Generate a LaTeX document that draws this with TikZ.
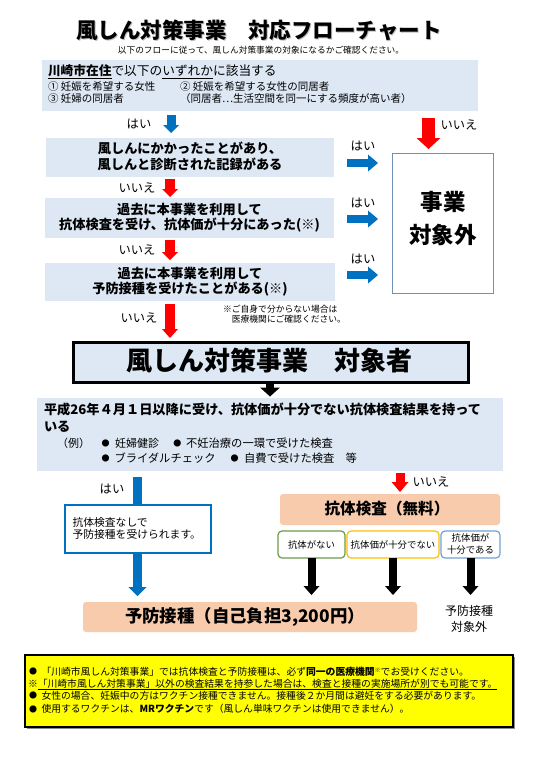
\documentclass[tikz,border=0pt]{standalone}
\usepackage{fontspec}
\setmainfont{Noto Sans CJK JP}
\usetikzlibrary{arrows.meta}
\definecolor{lb}{HTML}{DDE8F4}
\definecolor{fblue}{HTML}{0070C0}
\definecolor{fred}{HTML}{FF0000}
\definecolor{peach}{HTML}{F8CBAD}
\definecolor{gbord}{HTML}{6A9B47}
\definecolor{ybord}{HTML}{FFC000}
\definecolor{bbord}{HTML}{6FA0D8}
\definecolor{rbord}{HTML}{7090B8}
\definecolor{notey}{HTML}{FFFF00}
\newcommand\fsz[2]{\fontsize{#1}{#2}\selectfont}
\begin{document}
\begin{tikzpicture}[x=1pt,y=-1pt,
  every node/.style={inner sep=0pt, outer sep=0pt},
  lbfill/.style={fill=lb, draw=none},
  barr/.style n args={4}{draw=#1, line width=#2, -{Triangle[width=#3,length=#4,line width=0pt]}},
  lab/.style={font=\fsz{12.3}{14}},
  boxtxt/.style={font=\fsz{13.2}{15.5}\bfseries, align=center},
  small/.style={rounded corners=4pt, line width=1.2pt, fill=white},
  notefont/.style={font=\fsz{9.8}{11}}]
\fill[white] (0,0) rectangle (543,760);
\useasboundingbox (0,0) rectangle (543,760);

% title
\node[text=black!25, font=\fsz{21.5}{24}\bfseries] (titlesh) at (260,31) {風しん対策事業　対応フローチャート};
\node[font=\fsz{21.5}{24}\bfseries] (title) at (259,30) {風しん対策事業　対応フローチャート};
\node[font=\fsz{8.7}{10}] (sub) at (261,50) {以下のフローに従って、風しん対策事業の対象になるかご確認ください。};

% top condition box
\path[lbfill] (42,60) rectangle (478,111);
\node[anchor=base west, font=\fsz{12.7}{14}] (q1) at (48,75.5) {\underline{\textbf{川崎市在住}}で以下の\underline{いずれか}に該当する};
\node[anchor=base west, font=\fsz{10.5}{12}] (c1) at (48,90.5) {① 妊娠を希望する女性};
\node[anchor=base west, font=\fsz{10.5}{12}] (c2) at (180,90.5) {② 妊娠を希望する女性の同居者};
\node[anchor=base west, font=\fsz{10.5}{12}] (c3) at (48,102.5) {③ 妊婦の同居者};
\node[anchor=base west, font=\fsz{10.5}{12}] (c4) at (180,102.5) {（同居者…生活空間を同一にする頻度が高い者）};

% right box
\node[draw=rbord, line width=1pt, minimum width=101pt, minimum height=140pt] (nottarget) at (442.5,223) {};
\node[font=\fsz{22.5}{33}\bfseries, align=center] (nttxt) at (443,219) {事業\\対象外};

% arrows column
\coordinate (a1s) at (171,115); \coordinate (a1e) at (171,133);
\draw[barr={fblue}{9pt}{16pt}{8pt}] (a1s) -- (a1e);
\node[lab] (yes1) at (139,124) {はい};

\coordinate (r0s) at (428.5,118); \coordinate (r0e) at (428.5,149);
\draw[barr={fred}{13pt}{24pt}{11pt}] (r0s) -- (r0e);
\node[lab] (no0) at (459,125) {いいえ};

% box1
\path[lbfill] (46,138) rectangle (334,177);
\node[boxtxt] (b1) at (190,156.5) {風しんにかかったことがあり、\\風しんと診断された記録がある};
\coordinate (h1s) at (347,163); \coordinate (h1e) at (378,163);
\draw[barr={fblue}{8pt}{17pt}{10pt}] (h1s) -- (h1e);
\node[lab] (yes2) at (363,146) {はい};

\coordinate (r1s) at (170,179); \coordinate (r1e) at (170,197);
\draw[barr={fred}{10pt}{16pt}{8pt}] (r1s) -- (r1e);
\node[lab] (no1) at (137,188) {いいえ};

% box2
\path[lbfill] (45,198) rectangle (334,238);
\node[boxtxt] (b2) at (189.5,217.5) {過去に本事業を利用して\\抗体検査を受け、抗体価が十分にあった(※)};
\coordinate (h2s) at (347,219); \coordinate (h2e) at (378,219);
\draw[barr={fblue}{8pt}{17pt}{10pt}] (h2s) -- (h2e);
\node[lab] (yes3) at (363,203) {はい};

\coordinate (r2s) at (170,240); \coordinate (r2e) at (170,260);
\draw[barr={fred}{10pt}{16pt}{8pt}] (r2s) -- (r2e);
\node[lab] (no2) at (137,250) {いいえ};

% box3
\path[lbfill] (45,263) rectangle (335,301);
\node[boxtxt] (b3) at (190,281.5) {過去に本事業を利用して\\予防接種を受けたことがある(※)};
\coordinate (h3s) at (347,275); \coordinate (h3e) at (378,275);
\draw[barr={fblue}{8pt}{17pt}{10pt}] (h3s) -- (h3e);
\node[lab] (yes4) at (363,259) {はい};

\node[anchor=north west, font=\fsz{8.8}{10}, align=left] (note1) at (223,305) {※ご自身で分からない場合は\\　医療機関にご確認ください。};

\coordinate (r3s) at (170,304); \coordinate (r3e) at (170,338);
\draw[barr={fred}{10pt}{16pt}{9pt}] (r3s) -- (r3e);
\node[lab] (no3) at (139,318) {いいえ};

% target box
\node[fill=lb, draw=black, line width=3pt, minimum width=395pt, minimum height=40pt] (target) at (270.5,362) {};
\node[font=\fsz{26}{28}\bfseries] (targettxt) at (269,361) {風しん対策事業　対象者};
\coordinate (k0s) at (270,382); \coordinate (k0e) at (270,396.5);
\draw[barr={black}{8pt}{20pt}{9pt}] (k0s) -- (k0e);

% lower condition box
\path[lbfill] (37,398) rectangle (503,471);
\node[anchor=base west, font=\fsz{13.2}{15}\bfseries] (d1) at (44,414.5) {平成26年４月１日以降に受け、抗体価が十分でない抗体検査結果を持って};
\node[anchor=base west, font=\fsz{13.2}{15}\bfseries] (d2) at (44,431.5) {いる};
\node[anchor=base west, font=\fsz{11}{12}] (ex0) at (57,447) {（例）};
\node[font=\fsz{8}{8}] (bul1) at (105.7,443) {●};
\node[anchor=base west, font=\fsz{11}{12}] (ex1) at (115,447) {妊婦健診};
\node[font=\fsz{8}{8}] (bul2) at (177.3,443) {●};
\node[anchor=base west, font=\fsz{11.3}{12}] (ex2) at (186,447) {不妊治療の一環で受けた検査};
\node[font=\fsz{8}{8}] (bul3) at (105.7,458) {●};
\node[anchor=base west, font=\fsz{11.3}{12}] (ex3) at (114.5,462) {ブライダルチェック};
\node[font=\fsz{8}{8}] (bul4) at (234.5,458) {●};
\node[anchor=base west, font=\fsz{11.3}{12}] (ex4) at (244,462) {自費で受けた検査　等};

% left branch
\coordinate (ls) at (137.5,477); \coordinate (le) at (137.5,596);
\draw[barr={fblue}{9pt}{18pt}{9pt}] (ls) -- (le);
\node[lab] (yes5) at (112,489) {はい};
\node[draw=fblue, line width=1.3pt, fill=white, minimum width=146pt, minimum height=48pt] (noexam) at (138,529) {};
\node[anchor=west, font=\fsz{10.8}{11.5}, align=left] (noexamtxt) at (72.5,528.5) {抗体検査なしで\\予防接種を受けられます。};

% right branch
\coordinate (r4s) at (400,473); \coordinate (r4e) at (400,492);
\draw[barr={fred}{9pt}{17pt}{10pt}] (r4s) -- (r4e);
\node[lab] (no4) at (431,482) {いいえ};
\node[fill=peach, rounded corners=3pt, minimum width=220pt, minimum height=31pt] (exam) at (390,509.5) {};
\node[font=\fsz{15.6}{17}\bfseries] (examtxt) at (387,508.5) {抗体検査（無料）};

\node[small, draw=gbord, minimum width=67pt, minimum height=27pt] (res1) at (311.5,544.5) {};
\node[font=\fsz{9.4}{11}] (res1t) at (311.5,544.5) {抗体がない};
\node[small, draw=ybord, minimum width=92pt, minimum height=27pt] (res2) at (393,544.5) {};
\node[font=\fsz{9.4}{11}] (res2t) at (393,544.5) {抗体価が十分でない};
\node[small, draw=bbord, minimum width=59pt, minimum height=27pt] (res3) at (470.5,544.5) {};
\node[font=\fsz{9.4}{12}, align=center] (res3t) at (470.5,543.5) {抗体価が\\十分である};

\draw[barr={black}{8pt}{16pt}{9pt}] (res1.south) -- ++(0,37);
\draw[barr={black}{8pt}{16pt}{9pt}] (res2.south) -- ++(0,37);
\draw[barr={black}{8pt}{16pt}{9pt}] (res3.south) -- ++(0,37);

\node[fill=peach, rounded corners=3pt, minimum width=334pt, minimum height=30pt] (vacc) at (250,617) {};
\node[font=\fsz{17.4}{19}\bfseries] (vacctxt) at (245,616.5) {予防接種（自己負担3,200円）};
\node[font=\fsz{12}{16}, align=center] (outside) at (469,618.5) {予防接種\\対象外};

% notes
\fill[black!45] (27,657) rectangle (515,729);
\node[fill=notey, draw=black, line width=2pt, minimum width=488pt, minimum height=72pt] (notes) at (269,691) {};
\node[font=\fsz{8}{8}] (nb1) at (33,671.5) {●};
\node[anchor=base west, notefont] (n1) at (41.5,675) {「川崎市風しん対策事業」では抗体検査と予防接種は、必ず\textbf{同一の医療機関}\raisebox{2.5pt}{\fsz{6}{6}※}でお受けください。};
\node[anchor=base west, notefont] (n2a) at (28,687.5) {※};
\node[anchor=base west, notefont] (n2b) at (n2a.base east) {「川崎市風しん対策事業」以外の検査結果を持参した場合は、検査と接種の実施場所が別でも可能です。};
\draw[line width=0.6pt] ([yshift=-1.6pt]n2b.base west) -- ([yshift=-1.6pt]n2b.base east);
\node[font=\fsz{8}{8}] (nb3) at (33,695.5) {●};
\node[anchor=base west, notefont] (n3) at (41.5,699) {女性の場合、妊娠中の方はワクチン接種できません。接種後２か月間は避妊をする必要があります。};
\node[font=\fsz{8}{8}] (nb4) at (33,709) {●};
\node[anchor=base west, notefont] (n4) at (41.5,712.5) {使用するワクチンは、\textbf{MRワクチン}です（風しん単味ワクチンは使用できません）。};
\end{tikzpicture}
\end{document}
